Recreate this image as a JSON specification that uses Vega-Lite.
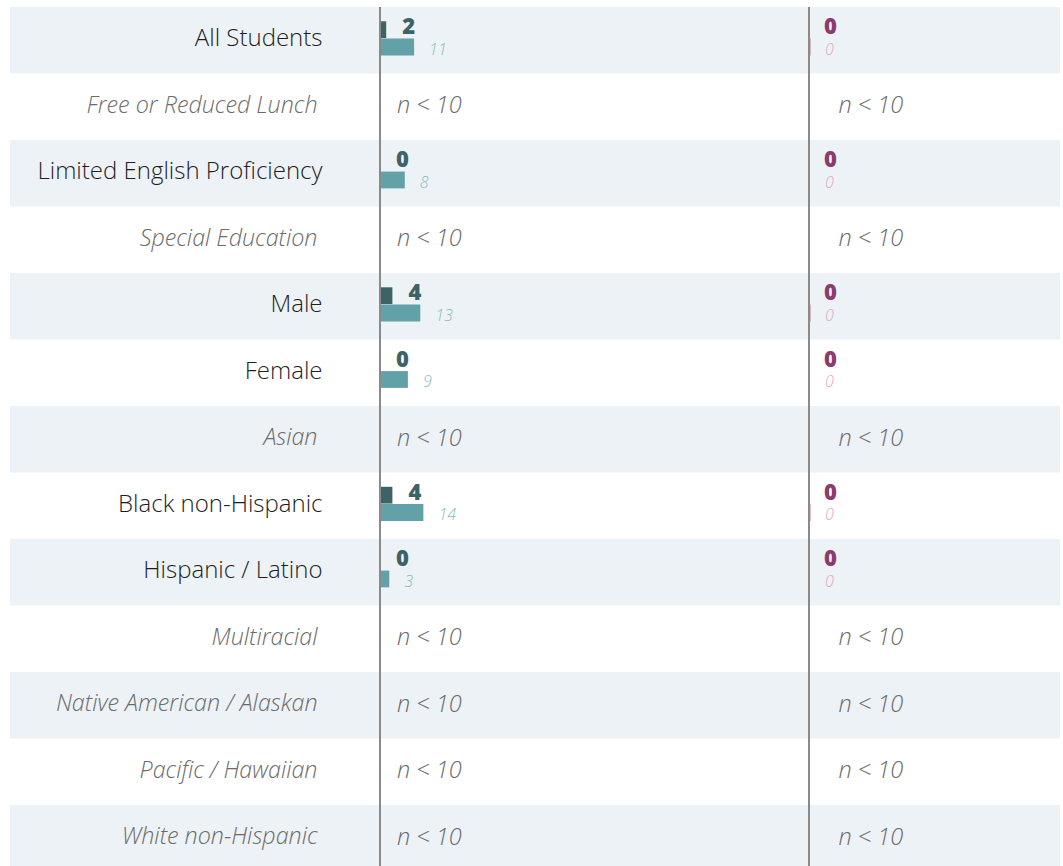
{
  "$schema": "https://vega.github.io/schema/vega-lite/v6.json",
  "padding": {"left": 10, "top": 6, "right": 3, "bottom": 0},
  "spacing": 0,
  "config": {"view": {"stroke": null}, "font": "Open Sans", "concat": {"spacing": 0}},
  "datasets": {
    "groups": [
      {"group": "All Students", "order": 0, "note": ""},
      {"group": "Free or Reduced Lunch", "order": 1, "note": "n < 10"},
      {"group": "Limited English Proficiency", "order": 2, "note": ""},
      {"group": "Special Education", "order": 3, "note": "n < 10"},
      {"group": "Male", "order": 4, "note": ""},
      {"group": "Female", "order": 5, "note": ""},
      {"group": "Asian", "order": 6, "note": "n < 10"},
      {"group": "Black non-Hispanic", "order": 7, "note": ""},
      {"group": "Hispanic / Latino", "order": 8, "note": ""},
      {"group": "Multiracial", "order": 9, "note": "n < 10"},
      {"group": "Native American / Alaskan", "order": 10, "note": "n < 10"},
      {"group": "Pacific / Hawaiian", "order": 11, "note": "n < 10"},
      {"group": "White non-Hispanic", "order": 12, "note": "n < 10"}
    ],
    "bars": [
      {"group": "All Students", "panel": "left", "series": "a", "value": 2, "label": "2"},
      {"group": "All Students", "panel": "left", "series": "b", "value": 11, "label": "11"},
      {"group": "All Students", "panel": "right", "series": "a", "value": 0, "label": "0"},
      {"group": "All Students", "panel": "right", "series": "b", "value": 0.5, "label": "0"},
      {"group": "Limited English Proficiency", "panel": "left", "series": "a", "value": 0, "label": "0"},
      {"group": "Limited English Proficiency", "panel": "left", "series": "b", "value": 8, "label": "8"},
      {"group": "Limited English Proficiency", "panel": "right", "series": "a", "value": 0, "label": "0"},
      {"group": "Limited English Proficiency", "panel": "right", "series": "b", "value": 0, "label": "0"},
      {"group": "Male", "panel": "left", "series": "a", "value": 4, "label": "4"},
      {"group": "Male", "panel": "left", "series": "b", "value": 13, "label": "13"},
      {"group": "Male", "panel": "right", "series": "a", "value": 0, "label": "0"},
      {"group": "Male", "panel": "right", "series": "b", "value": 0.5, "label": "0"},
      {"group": "Female", "panel": "left", "series": "a", "value": 0, "label": "0"},
      {"group": "Female", "panel": "left", "series": "b", "value": 9, "label": "9"},
      {"group": "Female", "panel": "right", "series": "a", "value": 0, "label": "0"},
      {"group": "Female", "panel": "right", "series": "b", "value": 0, "label": "0"},
      {"group": "Black non-Hispanic", "panel": "left", "series": "a", "value": 4, "label": "4"},
      {"group": "Black non-Hispanic", "panel": "left", "series": "b", "value": 14, "label": "14"},
      {"group": "Black non-Hispanic", "panel": "right", "series": "a", "value": 0, "label": "0"},
      {"group": "Black non-Hispanic", "panel": "right", "series": "b", "value": 0.5, "label": "0"},
      {"group": "Hispanic / Latino", "panel": "left", "series": "a", "value": 0, "label": "0"},
      {"group": "Hispanic / Latino", "panel": "left", "series": "b", "value": 3, "label": "3"},
      {"group": "Hispanic / Latino", "panel": "right", "series": "a", "value": 0, "label": "0"},
      {"group": "Hispanic / Latino", "panel": "right", "series": "b", "value": 0, "label": "0"}
    ]
  },
  "hconcat": [
    {
      "width": 369,
      "height": 864.5,
      "layer": [
        {
          "data": {"name": "groups"},
          "transform": [{"filter": "datum.order % 2 === 0"}],
          "mark": {"type": "rect", "color": "#edf2f6"},
          "encoding": {
            "y": {
              "field": "group", "type": "nominal",
              "scale": {"domain": ["All Students", "Free or Reduced Lunch", "Limited English Proficiency", "Special Education", "Male", "Female", "Asian", "Black non-Hispanic", "Hispanic / Latino", "Multiracial", "Native American / Alaskan", "Pacific / Hawaiian", "White non-Hispanic"], "paddingInner": 0, "paddingOuter": 0},
              "axis": {
                "title": null, "orient": "left", "offset": -312, "domain": false, "ticks": false, "tickSize": 0,
                "labelFont": "Open Sans", "labelFontWeight": 300, "labelLimit": 400, "labelAlign": "right", "labelBaseline": "middle", "labelOffset": -1,
                "labelFontSize": {"condition": {"test": "indexof(['Free or Reduced Lunch','Special Education','Asian','Multiracial','Native American / Alaskan','Pacific / Hawaiian','White non-Hispanic'], datum.value) >= 0", "value": 23.3}, "value": 24},
                "labelFontStyle": {"condition": {"test": "indexof(['Free or Reduced Lunch','Special Education','Asian','Multiracial','Native American / Alaskan','Pacific / Hawaiian','White non-Hispanic'], datum.value) >= 0", "value": "italic"}, "value": "normal"},
                "labelColor": {"condition": {"test": "indexof(['Free or Reduced Lunch','Special Education','Asian','Multiracial','Native American / Alaskan','Pacific / Hawaiian','White non-Hispanic'], datum.value) >= 0", "value": "#6b6b6b"}, "value": "#1e1e1e"},
                "labelPadding": {"condition": {"test": "indexof(['Free or Reduced Lunch','Special Education','Asian','Multiracial','Native American / Alaskan','Pacific / Hawaiian','White non-Hispanic'], datum.value) >= 0", "value": 5}, "value": 0}
              }
            },
            "x": {"value": 0},
            "x2": {"value": "width"}
          }
        }
      ]
    },
    {
      "width": 428,
      "height": 864.5,
      "layer": [
        {
          "data": {"name": "groups"},
          "transform": [{"filter": "datum.order % 2 === 0"}],
          "mark": {"type": "rect", "color": "#edf2f6"},
          "encoding": {
            "y": {"field": "group", "type": "nominal", "axis": null,
              "scale": {"domain": ["All Students", "Free or Reduced Lunch", "Limited English Proficiency", "Special Education", "Male", "Female", "Asian", "Black non-Hispanic", "Hispanic / Latino", "Multiracial", "Native American / Alaskan", "Pacific / Hawaiian", "White non-Hispanic"], "paddingInner": 0, "paddingOuter": 0}},
            "x": {"value": 0},
            "x2": {"value": "width"}
          }
        },
        {
          "data": {"name": "bars"},
          "transform": [{"filter": "datum.panel === 'left' && datum.series === 'a'"}],
          "mark": {"type": "bar", "color": "#3d6366"},
          "encoding": {
            "y": {"field": "group", "type": "nominal", "axis": null},
            "yOffset": {"field": "series", "type": "nominal", "scale": {"domain": ["a", "b"], "paddingInner": 0.03, "paddingOuter": 0.937, "align": 0.441}},
            "x": {"field": "value", "type": "quantitative", "axis": null, "scale": {"domain": [0, 138.1], "nice": false}}
          }
        },
        {
          "data": {"name": "bars"},
          "transform": [{"filter": "datum.panel === 'left' && datum.series === 'b'"}],
          "mark": {"type": "bar", "color": "#62a1a8"},
          "encoding": {
            "y": {"field": "group", "type": "nominal", "axis": null},
            "yOffset": {"field": "series", "type": "nominal"},
            "x": {"field": "value", "type": "quantitative", "axis": null}
          }
        },
        {
          "data": {"name": "bars"},
          "transform": [{"filter": "datum.panel === 'left' && datum.series === 'a'"}],
          "mark": {"type": "text", "align": "left", "baseline": "middle", "dx": 16, "dy": -2.5, "font": "Open Sans", "fontSize": 22, "fontWeight": 800, "color": "#3d6366"},
          "encoding": {
            "y": {"field": "group", "type": "nominal", "axis": null},
            "yOffset": {"field": "series", "type": "nominal"},
            "x": {"field": "value", "type": "quantitative", "axis": null},
            "text": {"field": "label"}
          }
        },
        {
          "data": {"name": "bars"},
          "transform": [{"filter": "datum.panel === 'left' && datum.series === 'b'"}],
          "mark": {"type": "text", "align": "left", "baseline": "middle", "dx": 15, "dy": 3, "font": "Open Sans", "fontSize": 16, "fontStyle": "italic", "fontWeight": 300, "color": "#88bbc0"},
          "encoding": {
            "y": {"field": "group", "type": "nominal", "axis": null},
            "yOffset": {"field": "series", "type": "nominal"},
            "x": {"field": "value", "type": "quantitative", "axis": null},
            "text": {"field": "label"}
          }
        },
        {
          "data": {"name": "groups"},
          "transform": [{"filter": "datum.note !== ''"}],
          "mark": {"type": "text", "align": "left", "baseline": "middle", "dx": 17, "dy": -0.5, "font": "Open Sans", "fontSize": 23.5, "fontStyle": "italic", "fontWeight": 300, "color": "#6b6b6b"},
          "encoding": {
            "y": {"field": "group", "type": "nominal", "axis": null},
            "x": {"datum": 0, "type": "quantitative", "axis": null},
            "text": {"field": "note"}
          }
        },
        {
          "data": {"values": [{}]},
          "mark": {"type": "rule", "color": "#8a8a8a", "strokeWidth": 2},
          "encoding": {"x": {"datum": 0, "type": "quantitative", "axis": null}}
        }
      ]
    },
    {
      "width": 251,
      "height": 864.5,
      "layer": [
        {
          "data": {"name": "groups"},
          "transform": [{"filter": "datum.order % 2 === 0"}],
          "mark": {"type": "rect", "color": "#edf2f6"},
          "encoding": {
            "y": {"field": "group", "type": "nominal", "axis": null,
              "scale": {"domain": ["All Students", "Free or Reduced Lunch", "Limited English Proficiency", "Special Education", "Male", "Female", "Asian", "Black non-Hispanic", "Hispanic / Latino", "Multiracial", "Native American / Alaskan", "Pacific / Hawaiian", "White non-Hispanic"], "paddingInner": 0, "paddingOuter": 0}},
            "x": {"value": 0},
            "x2": {"value": "width"}
          }
        },
        {
          "data": {"name": "bars"},
          "transform": [{"filter": "datum.panel === 'right' && datum.series === 'a'"}],
          "mark": {"type": "bar", "color": "#8c3b6c"},
          "encoding": {
            "y": {"field": "group", "type": "nominal", "axis": null},
            "yOffset": {"field": "series", "type": "nominal", "scale": {"domain": ["a", "b"], "paddingInner": 0.03, "paddingOuter": 0.937, "align": 0.441}},
            "x": {"field": "value", "type": "quantitative", "axis": null, "scale": {"domain": [0, 81], "nice": false}}
          }
        },
        {
          "data": {"name": "bars"},
          "transform": [{"filter": "datum.panel === 'right' && datum.series === 'b'"}],
          "mark": {"type": "bar", "color": "#d884a4"},
          "encoding": {
            "y": {"field": "group", "type": "nominal", "axis": null},
            "yOffset": {"field": "series", "type": "nominal"},
            "x": {"field": "value", "type": "quantitative", "axis": null}
          }
        },
        {
          "data": {"name": "bars"},
          "transform": [{"filter": "datum.panel === 'right' && datum.series === 'a'"}],
          "mark": {"type": "text", "align": "left", "baseline": "middle", "dx": 15, "dy": -2.5, "font": "Open Sans", "fontSize": 22, "fontWeight": 800, "color": "#8c3b6c"},
          "encoding": {
            "y": {"field": "group", "type": "nominal", "axis": null},
            "yOffset": {"field": "series", "type": "nominal"},
            "x": {"datum": 0, "type": "quantitative", "axis": null},
            "text": {"field": "label"}
          }
        },
        {
          "data": {"name": "bars"},
          "transform": [{"filter": "datum.panel === 'right' && datum.series === 'b'"}],
          "mark": {"type": "text", "align": "left", "baseline": "middle", "dx": 16, "dy": 3, "font": "Open Sans", "fontSize": 16, "fontStyle": "italic", "fontWeight": 300, "color": "#e2a6c1"},
          "encoding": {
            "y": {"field": "group", "type": "nominal", "axis": null},
            "yOffset": {"field": "series", "type": "nominal"},
            "x": {"datum": 0, "type": "quantitative", "axis": null},
            "text": {"field": "label"}
          }
        },
        {
          "data": {"name": "groups"},
          "transform": [{"filter": "datum.note !== ''"}],
          "mark": {"type": "text", "align": "left", "baseline": "middle", "dx": 29.5, "dy": -0.5, "font": "Open Sans", "fontSize": 23.5, "fontStyle": "italic", "fontWeight": 300, "color": "#6b6b6b"},
          "encoding": {
            "y": {"field": "group", "type": "nominal", "axis": null},
            "x": {"datum": 0, "type": "quantitative", "axis": null},
            "text": {"field": "note"}
          }
        },
        {
          "data": {"values": [{}]},
          "mark": {"type": "rule", "color": "#8a8a8a", "strokeWidth": 2},
          "encoding": {"x": {"datum": 0, "type": "quantitative", "axis": null}}
        }
      ]
    }
  ]
}
